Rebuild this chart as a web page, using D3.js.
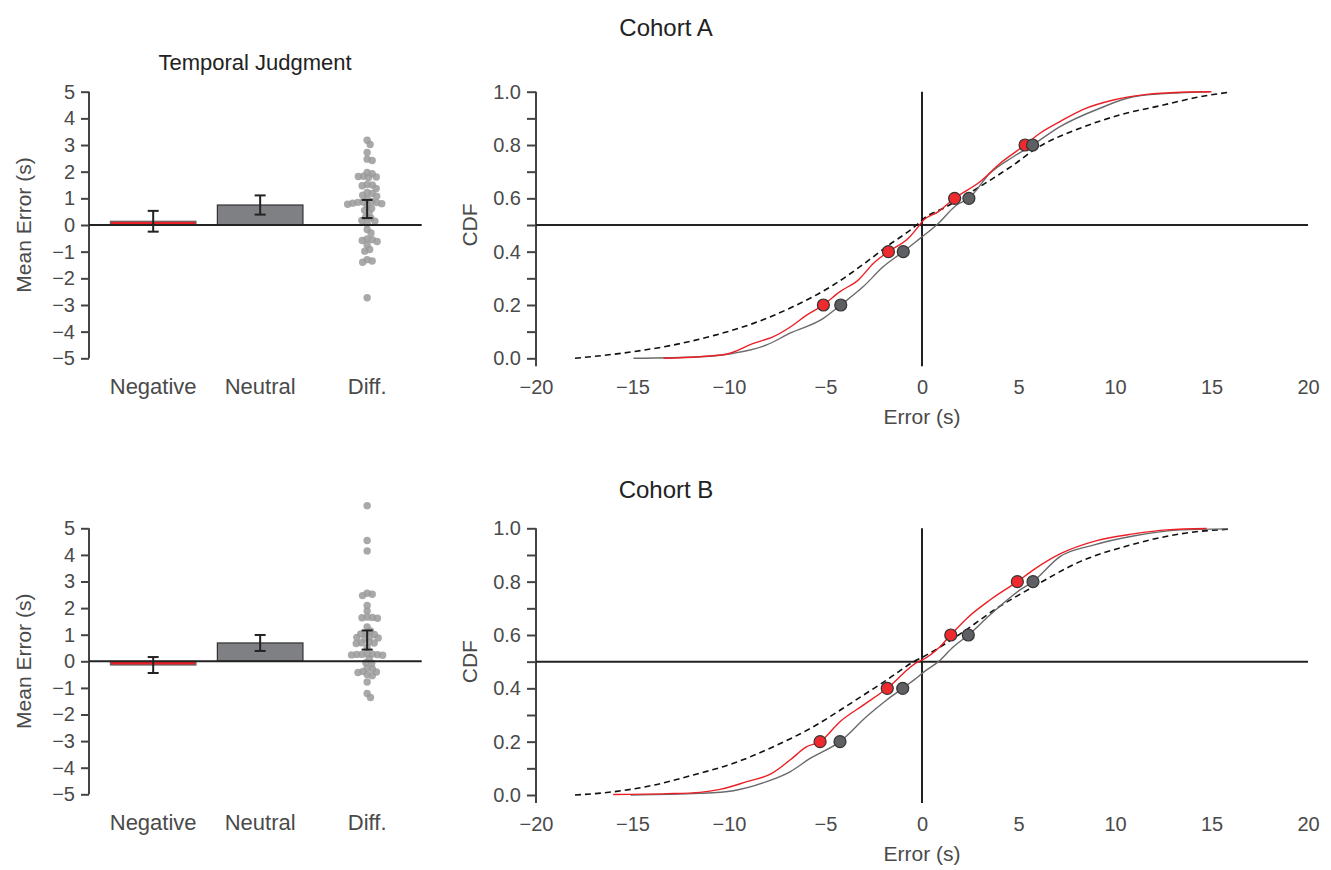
<!DOCTYPE html>
<html>
<head>
<meta charset="utf-8">
<script src="https://cdn.jsdelivr.net/npm/d3@7"></script>
<style>
  html, body { margin: 0; padding: 0; background: #fff; }
  svg { display: block; font-family: "Liberation Sans", Arial, sans-serif; }
</style>
</head>
<body>
<svg id="chart" width="1331" height="870"></svg>
<script>
// ---------------- DATA ----------------
const barCategories = ["Negative", "Neutral", "Diff."];
const barMeansA = [0.14, 0.75, 0.60];
const barErrA   = [0.39, 0.36, 0.34];
const barMeansB = [-0.14, 0.69, 0.80];
const barErrB   = [0.30, 0.30, 0.36];

const diffPointsA = [3.18, 3.02, 2.72, 2.47, 2.42, 1.97, 1.92, 1.83, 1.80, 1.78, 1.82, 1.52, 1.50, 1.47,
  1.37, 1.22, 1.18, 1.12, 1.08, 0.98, 0.88, 0.86, 0.84, 0.82, 0.80, 0.78, 0.85, 0.72, 0.62, 0.55,
  0.45, 0.30, 0.26, 0.17, 0.14, 0.05, -0.17, -0.30, -0.52, -0.55, -0.58, -0.62, -0.75, -0.92,
  -0.98, -1.30, -1.35, -1.40, -2.73];
const diffPointsB = [5.85, 4.54, 4.15, 2.56, 2.52, 2.47, 2.10, 1.89, 1.66, 1.64, 1.62, 1.65, 1.29, 1.14,
  1.05, 1.03, 1.01, 0.92, 0.90, 0.88, 0.84, 0.72, 0.70, 0.69, 0.67, 0.52, 0.28, 0.27, 0.26, 0.25,
  0.24, 0.26, 0.23, 0.10, -0.05, -0.07, -0.26, -0.28, -0.38, -0.40, -0.42, -0.50, -0.54, -0.78,
  -1.21, -1.36];

const yTicksBar = [-5, -4, -3, -2, -1, 0, 1, 2, 3, 4, 5];
const xTicksCdf = [-20, -15, -10, -5, 0, 5, 10, 15, 20];
const yTicksCdfMajor = [0, 0.2, 0.4, 0.6, 0.8, 1.0];
const yTicksCdfAll = [0, 0.1, 0.2, 0.3, 0.4, 0.5, 0.6, 0.7, 0.8, 0.9, 1.0];

const quantLevels = [0.2, 0.4, 0.6, 0.8];
const quantNegA = [-5.11, -1.74, 1.69, 5.34];
const quantNeuA = [-4.21, -0.97, 2.43, 5.73];
const quantNegB = [-5.28, -1.80, 1.49, 4.94];
const quantNeuB = [-4.25, -1.00, 2.40, 5.75];

// CDF curves [error, cumulative]
const cdfRefA = [[-17.98,0],[-14.95,0.025],[-12.88,0.05],[-10.81,0.085],[-8.74,0.131],[-6.67,0.194],
  [-4.59,0.275],[-2.87,0.362],[-1.83,0.419],[-0.19,0.506],[0,0.519],[1.28,0.569],[3.0,0.644],
  [4.73,0.725],[5.94,0.788],[8.19,0.863],[10.26,0.913],[12.5,0.95],[14.4,0.981],[15.9,0.998]];
const cdfNegA = [[-13.4,0],[-11.5,0.006],[-10.1,0.016],[-8.74,0.056],[-7.7,0.081],[-6.67,0.125],
  [-5.98,0.162],[-5.11,0.2],[-4.25,0.25],[-3.3,0.294],[-2.52,0.356],[-1.74,0.4],[-0.71,0.45],
  [-0.19,0.494],[0,0.512],[0.85,0.55],[1.69,0.6],[3.0,0.662],[4.04,0.731],[5.34,0.8],[6.11,0.844],
  [7.15,0.888],[8.36,0.934],[9.92,0.969],[11.64,0.99],[13.4,0.998],[15.0,1.0]];
const cdfNeuA = [[-14.95,0],[-11.5,0.006],[-9.77,0.019],[-8.05,0.05],[-6.84,0.094],[-5.11,0.15],
  [-4.21,0.2],[-3.04,0.269],[-2.0,0.344],[-0.97,0.4],[-0.1,0.45],[0.76,0.5],[1.8,0.575],[2.43,0.6],
  [3.52,0.694],[4.73,0.756],[5.73,0.8],[7.15,0.869],[9.22,0.938],[10.95,0.981],[13.37,0.996],[14.9,1.0]];

const cdfRefB = [[-17.98,0],[-16.0,0.012],[-13.9,0.037],[-11.85,0.075],[-9.77,0.119],[-7.7,0.181],
  [-5.63,0.256],[-3.56,0.35],[-1.83,0.431],[-0.28,0.506],[0,0.516],[2.14,0.612],[3.87,0.7],
  [5.77,0.781],[8.19,0.875],[10.78,0.937],[13.37,0.979],[15.9,0.997]];
const cdfNegB = [[-16.0,0.002],[-13.2,0.005],[-11.5,0.01],[-10.47,0.021],[-9.08,0.05],[-7.78,0.081],
  [-6.84,0.131],[-5.97,0.181],[-5.28,0.2],[-4.25,0.275],[-3.04,0.337],[-1.8,0.4],[-0.19,0.5],
  [0,0.506],[0.93,0.556],[1.49,0.6],[2.32,0.662],[3.52,0.731],[4.94,0.8],[5.77,0.844],[7.15,0.904],
  [9.05,0.954],[10.95,0.979],[12.68,0.994],[14.75,0.999]];
const cdfNeuB = [[-15.1,0],[-11.5,0.006],[-9.77,0.016],[-8.05,0.05],[-6.84,0.087],[-5.8,0.137],
  [-4.25,0.2],[-2.87,0.294],[-1.83,0.356],[-1.0,0.4],[-0.19,0.444],[0,0.456],[0.85,0.5],[1.63,0.556],
  [2.4,0.6],[3.52,0.675],[5.08,0.769],[5.75,0.8],[7.15,0.894],[8.88,0.937],[10.95,0.971],[13.37,0.994],[15.8,0.998]];

// ---------------- STYLE ----------------
const RED = "#ec1f26", REDM = "#ee2a2e", GRAYBAR = "#7f8083", GRAYLINE = "#6a6a6c", GRAYM = "#5e5f62";
const TXT = "#4a4a4a", DARK = "#222";

const svg = d3.select("#chart");

function barPanel(top, bottom, means, errs, diffPts, title) {
  const g = svg.append("g");
  const y = d3.scaleLinear().domain([-5, 5]).range([bottom, top]);
  const x = d3.scaleLinear().domain([-0.6, 2.51]).range([89, 421.7]);

  const ax = g.append("g").attr("transform", "translate(89,0)")
    .call(d3.axisLeft(y).tickValues(yTicksBar).tickSize(8).tickPadding(6)
      .tickFormat(d => d < 0 ? "\u2212" + Math.abs(d) : String(d)));
  ax.select(".domain").attr("stroke", "#444").attr("stroke-width", 2).attr("d", `M0,${y(5)}V${y(-5)}`);
  ax.selectAll(".tick line").attr("stroke", "#444").attr("stroke-width", 2);
  ax.selectAll(".tick text").attr("fill", TXT).style("font-size", "20px");

  const barData = [0, 1].map(i => ({ i, v: means[i] }));
  g.selectAll("rect.bar").data(barData).enter().append("rect")
    .attr("x", d => x(d.i - 0.4)).attr("width", x(0.4) - x(-0.4))
    .attr("y", d => y(Math.max(0, d.v))).attr("height", d => Math.abs(y(d.v) - y(0)))
    .attr("fill", d => d.i === 0 ? RED : GRAYBAR)
    .attr("stroke", d => d.i === 0 ? "#666" : "#333").attr("stroke-width", 1.2);

  // swarm of differences
  const r = 3.7, sep = 5.2;
  const pts = diffPts.map(v => ({ v, py: y(v) })).sort((a, b) => a.py - b.py);
  const placed = [];
  pts.forEach(p => {
    const cands = [0];
    placed.forEach(q => {
      const dy = Math.abs(q.py - p.py);
      if (dy < sep) { const dx = Math.sqrt(sep * sep - dy * dy); cands.push(q.dx + dx, q.dx - dx); }
    });
    cands.sort((a, b) => Math.abs(a) - Math.abs(b));
    for (const c of cands) {
      const ok = placed.every(q => (q.dx - c) ** 2 + (q.py - p.py) ** 2 >= sep * sep - 0.01);
      if (ok) { p.dx = c; break; }
    }
    placed.push(p);
  });
  g.selectAll("circle.sw").data(placed).enter().append("circle")
    .attr("cx", d => x(2) + d.dx).attr("cy", d => d.py).attr("r", r)
    .attr("fill", "#9a9a9a").attr("fill-opacity", 0.85);

  g.append("line").attr("x1", 89).attr("x2", 421.7).attr("y1", y(0)).attr("y2", y(0))
    .attr("stroke", DARK).attr("stroke-width", 2);

  [0, 1, 2].forEach(i => {
    const cx = x(i), lo = y(means[i] - errs[i]), hi = y(means[i] + errs[i]);
    g.append("line").attr("x1", cx).attr("x2", cx).attr("y1", lo).attr("y2", hi).attr("stroke", DARK).attr("stroke-width", 2);
    [lo, hi].forEach(yy => g.append("line").attr("x1", cx - 5.5).attr("x2", cx + 5.5).attr("y1", yy).attr("y2", yy)
      .attr("stroke", DARK).attr("stroke-width", 2));
  });

  g.selectAll("text.cat").data(barCategories).enter().append("text")
    .attr("x", (d, i) => x(i)).attr("y", bottom + 36).attr("text-anchor", "middle")
    .attr("fill", TXT).style("font-size", "22px").text(d => d);

  g.append("text").attr("transform", `translate(31,${y(0)}) rotate(-90)`).attr("text-anchor", "middle")
    .attr("fill", TXT).style("font-size", "21px").text("Mean Error (s)");

  if (title) {
    g.append("text").attr("x", 255).attr("y", 70).attr("text-anchor", "middle")
      .attr("fill", DARK).style("font-size", "22px").text(title);
  }
}

function cdfPanel(top, bottom, ref, neg, neu, qNeg, qNeu, title, titleY) {
  const g = svg.append("g");
  const x = d3.scaleLinear().domain([-20, 20]).range([536, 1308]);
  const y = d3.scaleLinear().domain([0, 1]).range([bottom, top]);
  const yMin = -0.03;

  const ax = g.append("g").attr("transform", "translate(536,0)")
    .call(d3.axisLeft(y).tickValues(yTicksCdfAll).tickSize(9).tickPadding(6)
      .tickFormat(d => yTicksCdfMajor.some(m => Math.abs(m - d) < 1e-9) ? d3.format(".1f")(d) : ""));
  ax.select(".domain").attr("stroke", "#444").attr("stroke-width", 2).attr("d", `M0,${y(1)}V${y(yMin)}`);
  ax.selectAll(".tick line").attr("stroke", "#444").attr("stroke-width", 2);
  ax.selectAll(".tick text").attr("fill", TXT).style("font-size", "20px");

  const xa = g.append("g").attr("transform", `translate(0,${y(yMin)})`)
    .call(d3.axisBottom(x).tickValues(xTicksCdf).tickSize(0).tickPadding(14)
      .tickFormat(d => d < 0 ? "\u2212" + Math.abs(d) : String(d)));
  xa.select(".domain").remove();
  xa.selectAll(".tick text").attr("fill", TXT).style("font-size", "20px");

  g.append("line").attr("x1", x(-20)).attr("x2", x(20)).attr("y1", y(0.5)).attr("y2", y(0.5))
    .attr("stroke", DARK).attr("stroke-width", 2);
  g.append("line").attr("x1", x(0)).attr("x2", x(0)).attr("y1", y(1)).attr("y2", y(yMin))
    .attr("stroke", DARK).attr("stroke-width", 2);

  const line = d3.line().x(d => x(d[0])).y(d => y(d[1])).curve(d3.curveMonotoneX);
  g.append("path").attr("d", line(ref)).attr("fill", "none").attr("stroke", "#111")
    .attr("stroke-width", 1.6).attr("stroke-dasharray", "6,4");
  g.append("path").attr("d", line(neu)).attr("fill", "none").attr("stroke", GRAYLINE).attr("stroke-width", 1.4);
  g.append("path").attr("d", line(neg)).attr("fill", "none").attr("stroke", RED).attr("stroke-width", 1.4);

  g.selectAll("circle.qn").data(quantLevels).enter().append("circle")
    .attr("cx", (d, i) => x(qNeg[i])).attr("cy", d => y(d)).attr("r", 6)
    .attr("fill", REDM).attr("stroke", "#333").attr("stroke-width", 1.2);
  g.selectAll("circle.qu").data(quantLevels).enter().append("circle")
    .attr("cx", (d, i) => x(qNeu[i])).attr("cy", d => y(d)).attr("r", 6)
    .attr("fill", GRAYM).attr("stroke", "#333").attr("stroke-width", 1.2);

  g.append("text").attr("x", x(0)).attr("y", y(yMin) + 58).attr("text-anchor", "middle")
    .attr("fill", TXT).style("font-size", "21px").text("Error (s)");
  g.append("text").attr("transform", `translate(477,${y(0.5)}) rotate(-90)`).attr("text-anchor", "middle")
    .attr("fill", TXT).style("font-size", "21px").text("CDF");
  g.append("text").attr("x", 666).attr("y", titleY).attr("text-anchor", "middle")
    .attr("fill", DARK).style("font-size", "24px").text(title);
}

barPanel(91.7, 358.3, barMeansA, barErrA, diffPointsA, "Temporal Judgment");
barPanel(528.3, 794.3, barMeansB, barErrB, diffPointsB, null);
cdfPanel(91.7, 358.3, cdfRefA, cdfNegA, cdfNeuA, quantNegA, quantNeuA, "Cohort A", 36);
cdfPanel(528.3, 795, cdfRefB, cdfNegB, cdfNeuB, quantNegB, quantNeuB, "Cohort B", 498);
</script>
</body>
</html>
